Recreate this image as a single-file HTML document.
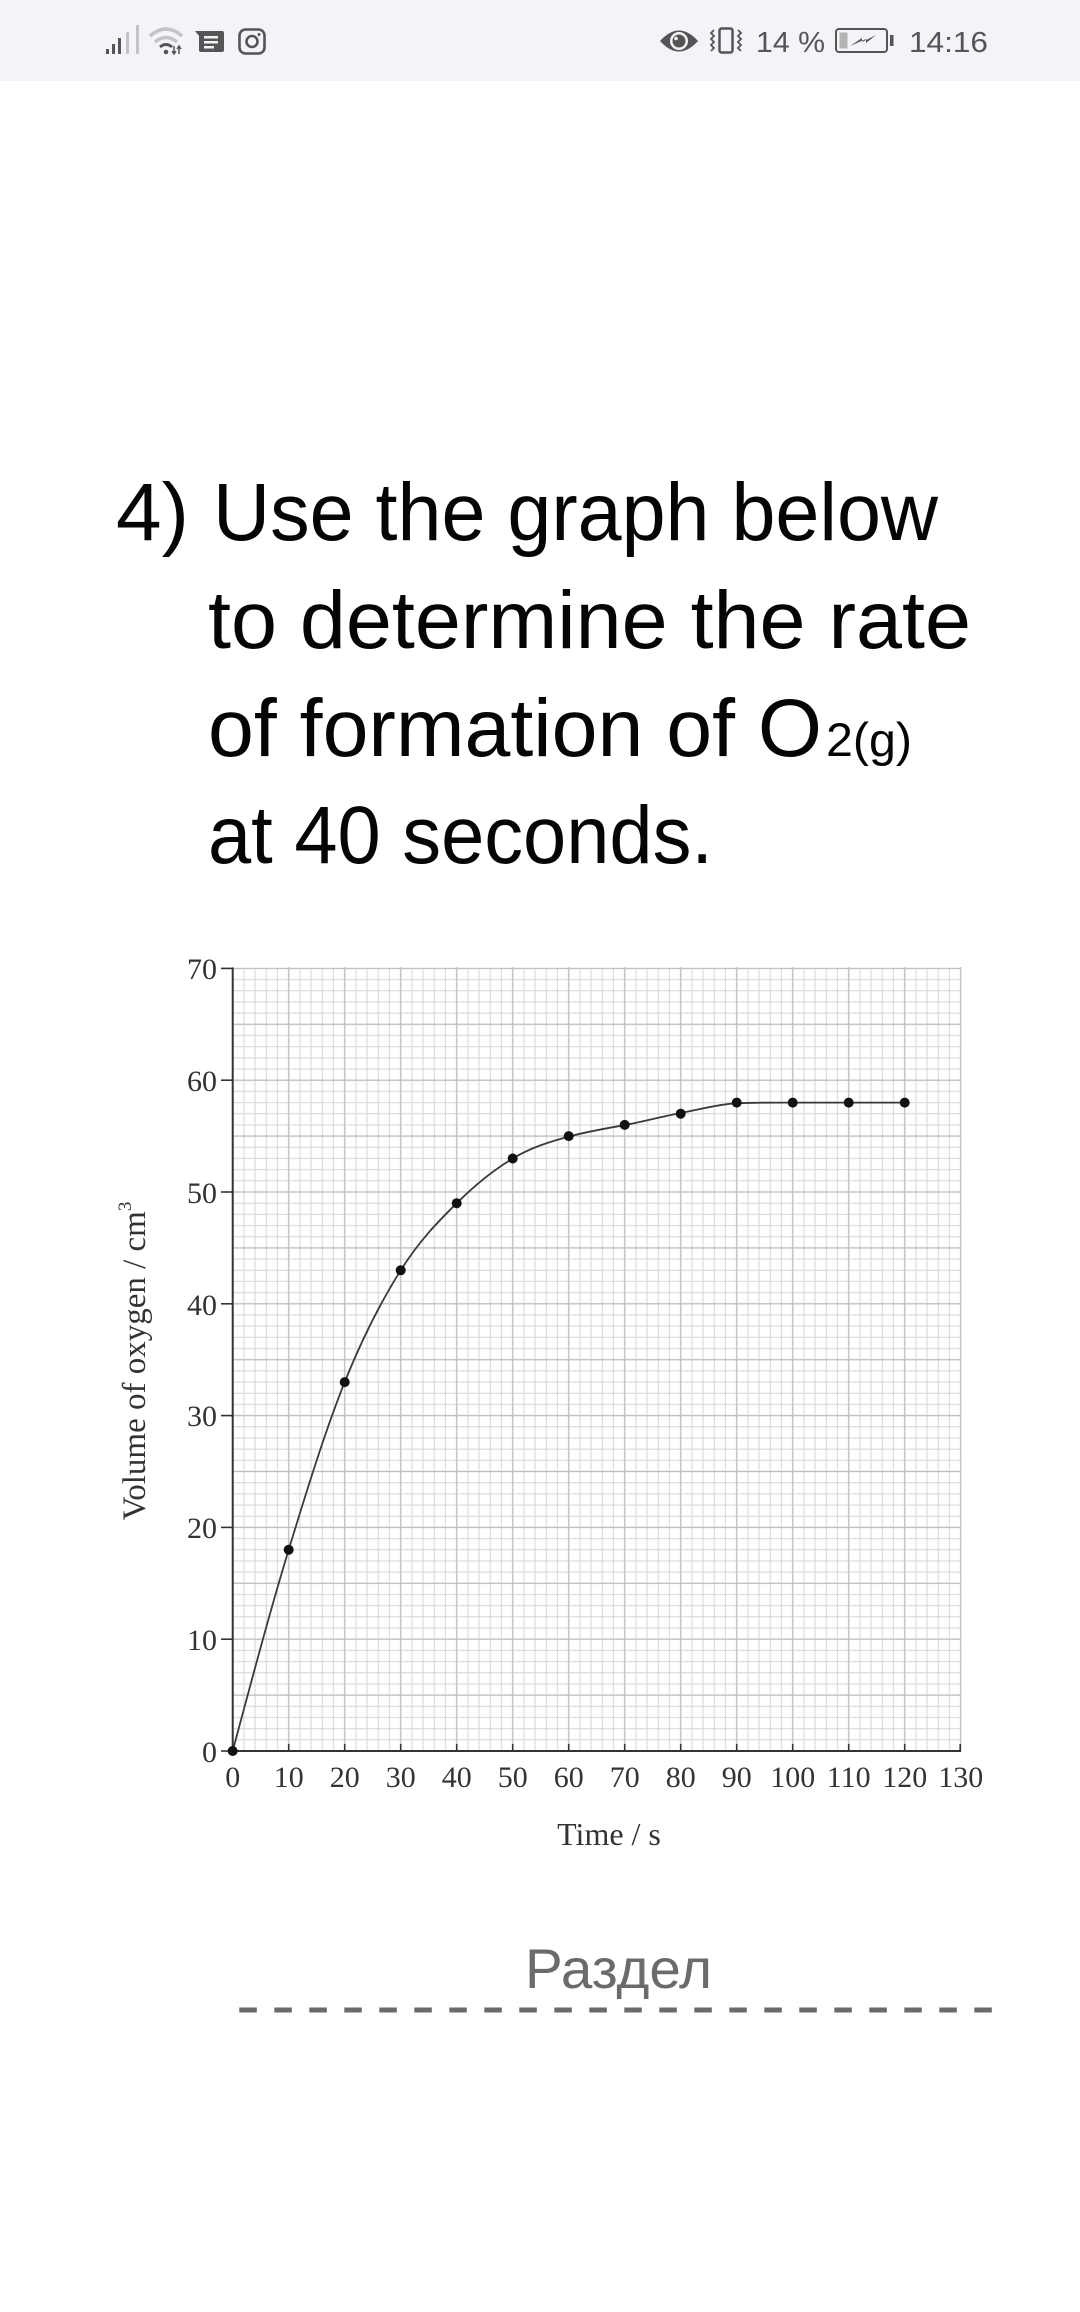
<!DOCTYPE html>
<html>
<head>
<meta charset="utf-8">
<style>
  html, body { margin: 0; padding: 0; background: #ffffff; }
  body { width: 1080px; height: 2312px; overflow: hidden; }
  svg { display: block; }
</style>
</head>
<body>
<svg width="1080" height="2312" viewBox="0 0 1080 2312" xmlns="http://www.w3.org/2000/svg">
  <defs>
    <pattern id="vmin" patternUnits="userSpaceOnUse" x="227.1" y="0" width="11.2" height="20">
      <rect x="5.1" y="0" width="1" height="20" fill="#d5d5d5"/>
    </pattern>
    <pattern id="hmin" patternUnits="userSpaceOnUse" x="0" y="962.81" width="20" height="11.18">
      <rect x="0" y="5.09" width="20" height="1" fill="#d5d5d5"/>
    </pattern>
    <pattern id="vmaj" patternUnits="userSpaceOnUse" x="204.7" y="0" width="56" height="20">
      <rect x="27.4" y="0" width="1.2" height="20" fill="#bdbdbd"/>
    </pattern>
    <pattern id="hmaj" patternUnits="userSpaceOnUse" x="0" y="940.45" width="20" height="55.9">
      <rect x="0" y="27.35" width="20" height="1.2" fill="#bdbdbd"/>
    </pattern>
  </defs>

  <!-- Status bar -->
  <rect x="0" y="0" width="1080" height="81" fill="#f3f4f8"/>
  <rect x="106" y="49" width="3" height="5" fill="#555"/>
  <rect x="112" y="44" width="3" height="10" fill="#555"/>
  <rect x="118" y="38" width="3" height="16" fill="#555"/>
  <rect x="126" y="32" width="3" height="22" fill="#c4c4c4"/>
  <rect x="136" y="25" width="3" height="29" fill="#c4c4c4"/>
  <path d="M150 36 Q166 22 182 36" stroke="#c4c4c4" stroke-width="3.5" fill="none"/>
  <path d="M155 42 Q166 33 177 42" stroke="#c4c4c4" stroke-width="3.5" fill="none"/>
  <path d="M160 47 Q166 42 172 47" stroke="#555" stroke-width="3" fill="none"/>
  <circle cx="166" cy="52" r="2.3" fill="#555"/>
  <path d="M174 46 V54 M172 51 L174 54 L176 51 M179 54 V46 M177 49 L179 46 L181 49" stroke="#555" stroke-width="1.5" fill="none"/>
  <path d="M198 31 H222 Q224 31 224 33 V50 Q224 52 222 52 H201 Q199 52 199 50 V36 L195 31 Z" fill="#555"/>
  <rect x="204" y="36" width="14" height="2.5" fill="#f3f4f8"/>
  <rect x="204" y="41" width="14" height="2.5" fill="#f3f4f8"/>
  <rect x="204" y="46" width="10" height="2.5" fill="#f3f4f8"/>
  <rect x="239.5" y="29.5" width="25" height="24" rx="6" stroke="#555" stroke-width="2.6" fill="none"/>
  <circle cx="252" cy="41.5" r="5.5" stroke="#555" stroke-width="2.6" fill="none"/>
  <circle cx="259" cy="34.5" r="1.5" fill="#555"/>

  <path d="M660 41 Q679 20 698 41 Q679 62 660 41 Z" fill="#555"/>
  <circle cx="679" cy="41" r="9" fill="#f3f4f8"/>
  <circle cx="679" cy="41" r="6.5" fill="#555"/>
  <circle cx="676" cy="38.5" r="1.8" fill="#f3f4f8"/>
  <rect x="719.5" y="28.5" width="13" height="24" rx="2" stroke="#555" stroke-width="2.5" fill="none"/>
  <polyline points="714,30 711,33 714,36 711,39 714,42 711,45 714,48 711,51" stroke="#555" stroke-width="1.8" fill="none"/>
  <polyline points="738,30 741,33 738,36 741,39 738,42 741,45 738,48 741,51" stroke="#555" stroke-width="1.8" fill="none"/>
  <text x="756" y="52" font-family="Liberation Sans, sans-serif" font-size="29" fill="#555" textLength="69" lengthAdjust="spacingAndGlyphs">14 %</text>
  <rect x="836" y="29" width="51" height="23" rx="3" stroke="#555" stroke-width="2" fill="none"/>
  <rect x="839.5" y="32.5" width="8" height="16" fill="#b4b4b4"/>
  <path d="M850 46 L862 38 L862 42 L876 35 L866 43 L866 39 Z" fill="#555"/>
  <rect x="890" y="35" width="3.5" height="11" fill="#555"/>
  <text x="909" y="52" font-family="Liberation Sans, sans-serif" font-size="29" fill="#555" textLength="79" lengthAdjust="spacingAndGlyphs">14:16</text>

  <!-- Question text -->
  <g font-family="Liberation Sans, sans-serif" font-size="82" fill="#050505">
    <text x="116" y="540">4)</text>
    <text x="213" y="540" textLength="725" lengthAdjust="spacingAndGlyphs">Use the graph below</text>
    <text x="208" y="648" textLength="763" lengthAdjust="spacingAndGlyphs">to determine the rate</text>
    <text x="208" y="756" textLength="614" lengthAdjust="spacingAndGlyphs">of formation of O</text>
    <text x="826" y="756" font-size="47" textLength="86" lengthAdjust="spacingAndGlyphs">2(g)</text>
    <text x="208" y="863" textLength="505" lengthAdjust="spacingAndGlyphs">at 40 seconds.</text>
  </g>

  <!-- Chart grid -->
  <rect x="232" y="968" width="729.5" height="783.5" fill="#ffffff"/>
  <rect x="232" y="968" width="729.5" height="783.5" fill="url(#vmin)"/>
  <rect x="232" y="968" width="729.5" height="783.5" fill="url(#hmin)"/>
  <rect x="232" y="967" width="729.5" height="785" fill="url(#vmaj)"/>
  <rect x="232" y="967" width="729.5" height="785" fill="url(#hmaj)"/>

  <!-- Axes -->
  <line x1="232.7" y1="967.5" x2="232.7" y2="1752" stroke="#333" stroke-width="2"/>
  <line x1="231.7" y1="1751" x2="961" y2="1751" stroke="#333" stroke-width="2"/>
  <g stroke="#333" stroke-width="1.6">
    <line x1="221" y1="1751" x2="232.7" y2="1751"/>
    <line x1="221" y1="1639.2" x2="232.7" y2="1639.2"/>
    <line x1="221" y1="1527.4" x2="232.7" y2="1527.4"/>
    <line x1="221" y1="1415.6" x2="232.7" y2="1415.6"/>
    <line x1="221" y1="1303.8" x2="232.7" y2="1303.8"/>
    <line x1="221" y1="1192" x2="232.7" y2="1192"/>
    <line x1="221" y1="1080.2" x2="232.7" y2="1080.2"/>
    <line x1="221" y1="968.4" x2="232.7" y2="968.4"/>
    <line x1="288.7" y1="1744" x2="288.7" y2="1751"/>
    <line x1="344.7" y1="1744" x2="344.7" y2="1751"/>
    <line x1="400.7" y1="1744" x2="400.7" y2="1751"/>
    <line x1="456.7" y1="1744" x2="456.7" y2="1751"/>
    <line x1="512.7" y1="1744" x2="512.7" y2="1751"/>
    <line x1="568.7" y1="1744" x2="568.7" y2="1751"/>
    <line x1="624.7" y1="1744" x2="624.7" y2="1751"/>
    <line x1="680.7" y1="1744" x2="680.7" y2="1751"/>
    <line x1="736.7" y1="1744" x2="736.7" y2="1751"/>
    <line x1="792.7" y1="1744" x2="792.7" y2="1751"/>
    <line x1="848.7" y1="1744" x2="848.7" y2="1751"/>
    <line x1="904.7" y1="1744" x2="904.7" y2="1751"/>
    <line x1="960.2" y1="1744" x2="960.2" y2="1751"/>
  </g>

  <!-- Y tick labels -->
  <g font-family="Liberation Serif, serif" font-size="30" fill="#333" text-anchor="end">
    <text x="217" y="1762">0</text>
    <text x="217" y="1650">10</text>
    <text x="217" y="1538">20</text>
    <text x="217" y="1426">30</text>
    <text x="217" y="1315">40</text>
    <text x="217" y="1203">50</text>
    <text x="217" y="1091">60</text>
    <text x="217" y="979">70</text>
  </g>
  <!-- X tick labels -->
  <g font-family="Liberation Serif, serif" font-size="30" fill="#333" text-anchor="middle">
    <text x="232.7" y="1787">0</text>
    <text x="288.7" y="1787">10</text>
    <text x="344.7" y="1787">20</text>
    <text x="400.7" y="1787">30</text>
    <text x="456.7" y="1787">40</text>
    <text x="512.7" y="1787">50</text>
    <text x="568.7" y="1787">60</text>
    <text x="624.7" y="1787">70</text>
    <text x="680.7" y="1787">80</text>
    <text x="736.7" y="1787">90</text>
    <text x="792.7" y="1787">100</text>
    <text x="848.7" y="1787">110</text>
    <text x="904.7" y="1787">120</text>
    <text x="960.7" y="1787">130</text>
  </g>

  <!-- Axis titles -->
  <text x="609" y="1845" font-family="Liberation Serif, serif" font-size="32" fill="#333" text-anchor="middle">Time / s</text>
  <text transform="translate(145,1361) rotate(-90)" font-family="Liberation Serif, serif" font-size="33" fill="#333" text-anchor="middle">Volume of oxygen / cm<tspan font-size="19" dy="-14">3</tspan></text>

  <!-- Curve -->
  <path d="M232.7 1751
           C251.4 1681 270.0 1611.3 288.7 1549.8
           C307.4 1488.3 326.0 1428.7 344.7 1382.1
           C363.4 1335.5 382.0 1300.1 400.7 1270.3
           C419.4 1240.5 438.0 1221.8 456.7 1203.2
           C475.4 1184.6 494.0 1169.7 512.7 1158.5
           C531.4 1147.3 550.0 1141.7 568.7 1136.6
           C587.4 1131.5 606.0 1128.4 624.7 1125.1
           C643.4 1121.8 662.0 1116.4 680.7 1113.0
           C699.4 1109.6 718.0 1104.2 736.7 1103.2
           C755.4 1102.5 774.0 1102.6 792.7 1102.6
           L904.7 1102.6"
        stroke="#3a3a3a" stroke-width="1.8" fill="none"/>

  <!-- Data points -->
  <g fill="#111">
    <circle cx="232.7" cy="1751" r="5"/>
    <circle cx="288.7" cy="1549.8" r="5"/>
    <circle cx="344.7" cy="1382.1" r="5"/>
    <circle cx="400.7" cy="1270.3" r="5"/>
    <circle cx="456.7" cy="1203.2" r="5"/>
    <circle cx="512.7" cy="1158.5" r="5"/>
    <circle cx="568.7" cy="1136.1" r="5"/>
    <circle cx="624.7" cy="1124.9" r="5"/>
    <circle cx="680.7" cy="1113.7" r="5"/>
    <circle cx="736.7" cy="1102.6" r="5"/>
    <circle cx="792.7" cy="1102.6" r="5"/>
    <circle cx="848.7" cy="1102.6" r="5"/>
    <circle cx="904.7" cy="1102.6" r="5"/>
  </g>

  <!-- Раздел + dashed line -->
  <text x="525" y="1988" font-family="Liberation Sans, sans-serif" font-size="56" fill="#6b6b6b" textLength="187" lengthAdjust="spacingAndGlyphs">Раздел</text>
  <line x1="239.3" y1="2010" x2="992" y2="2010" stroke="#6a6a6a" stroke-width="5" stroke-dasharray="17.5 17.5"/>
</svg>
</body>
</html>
